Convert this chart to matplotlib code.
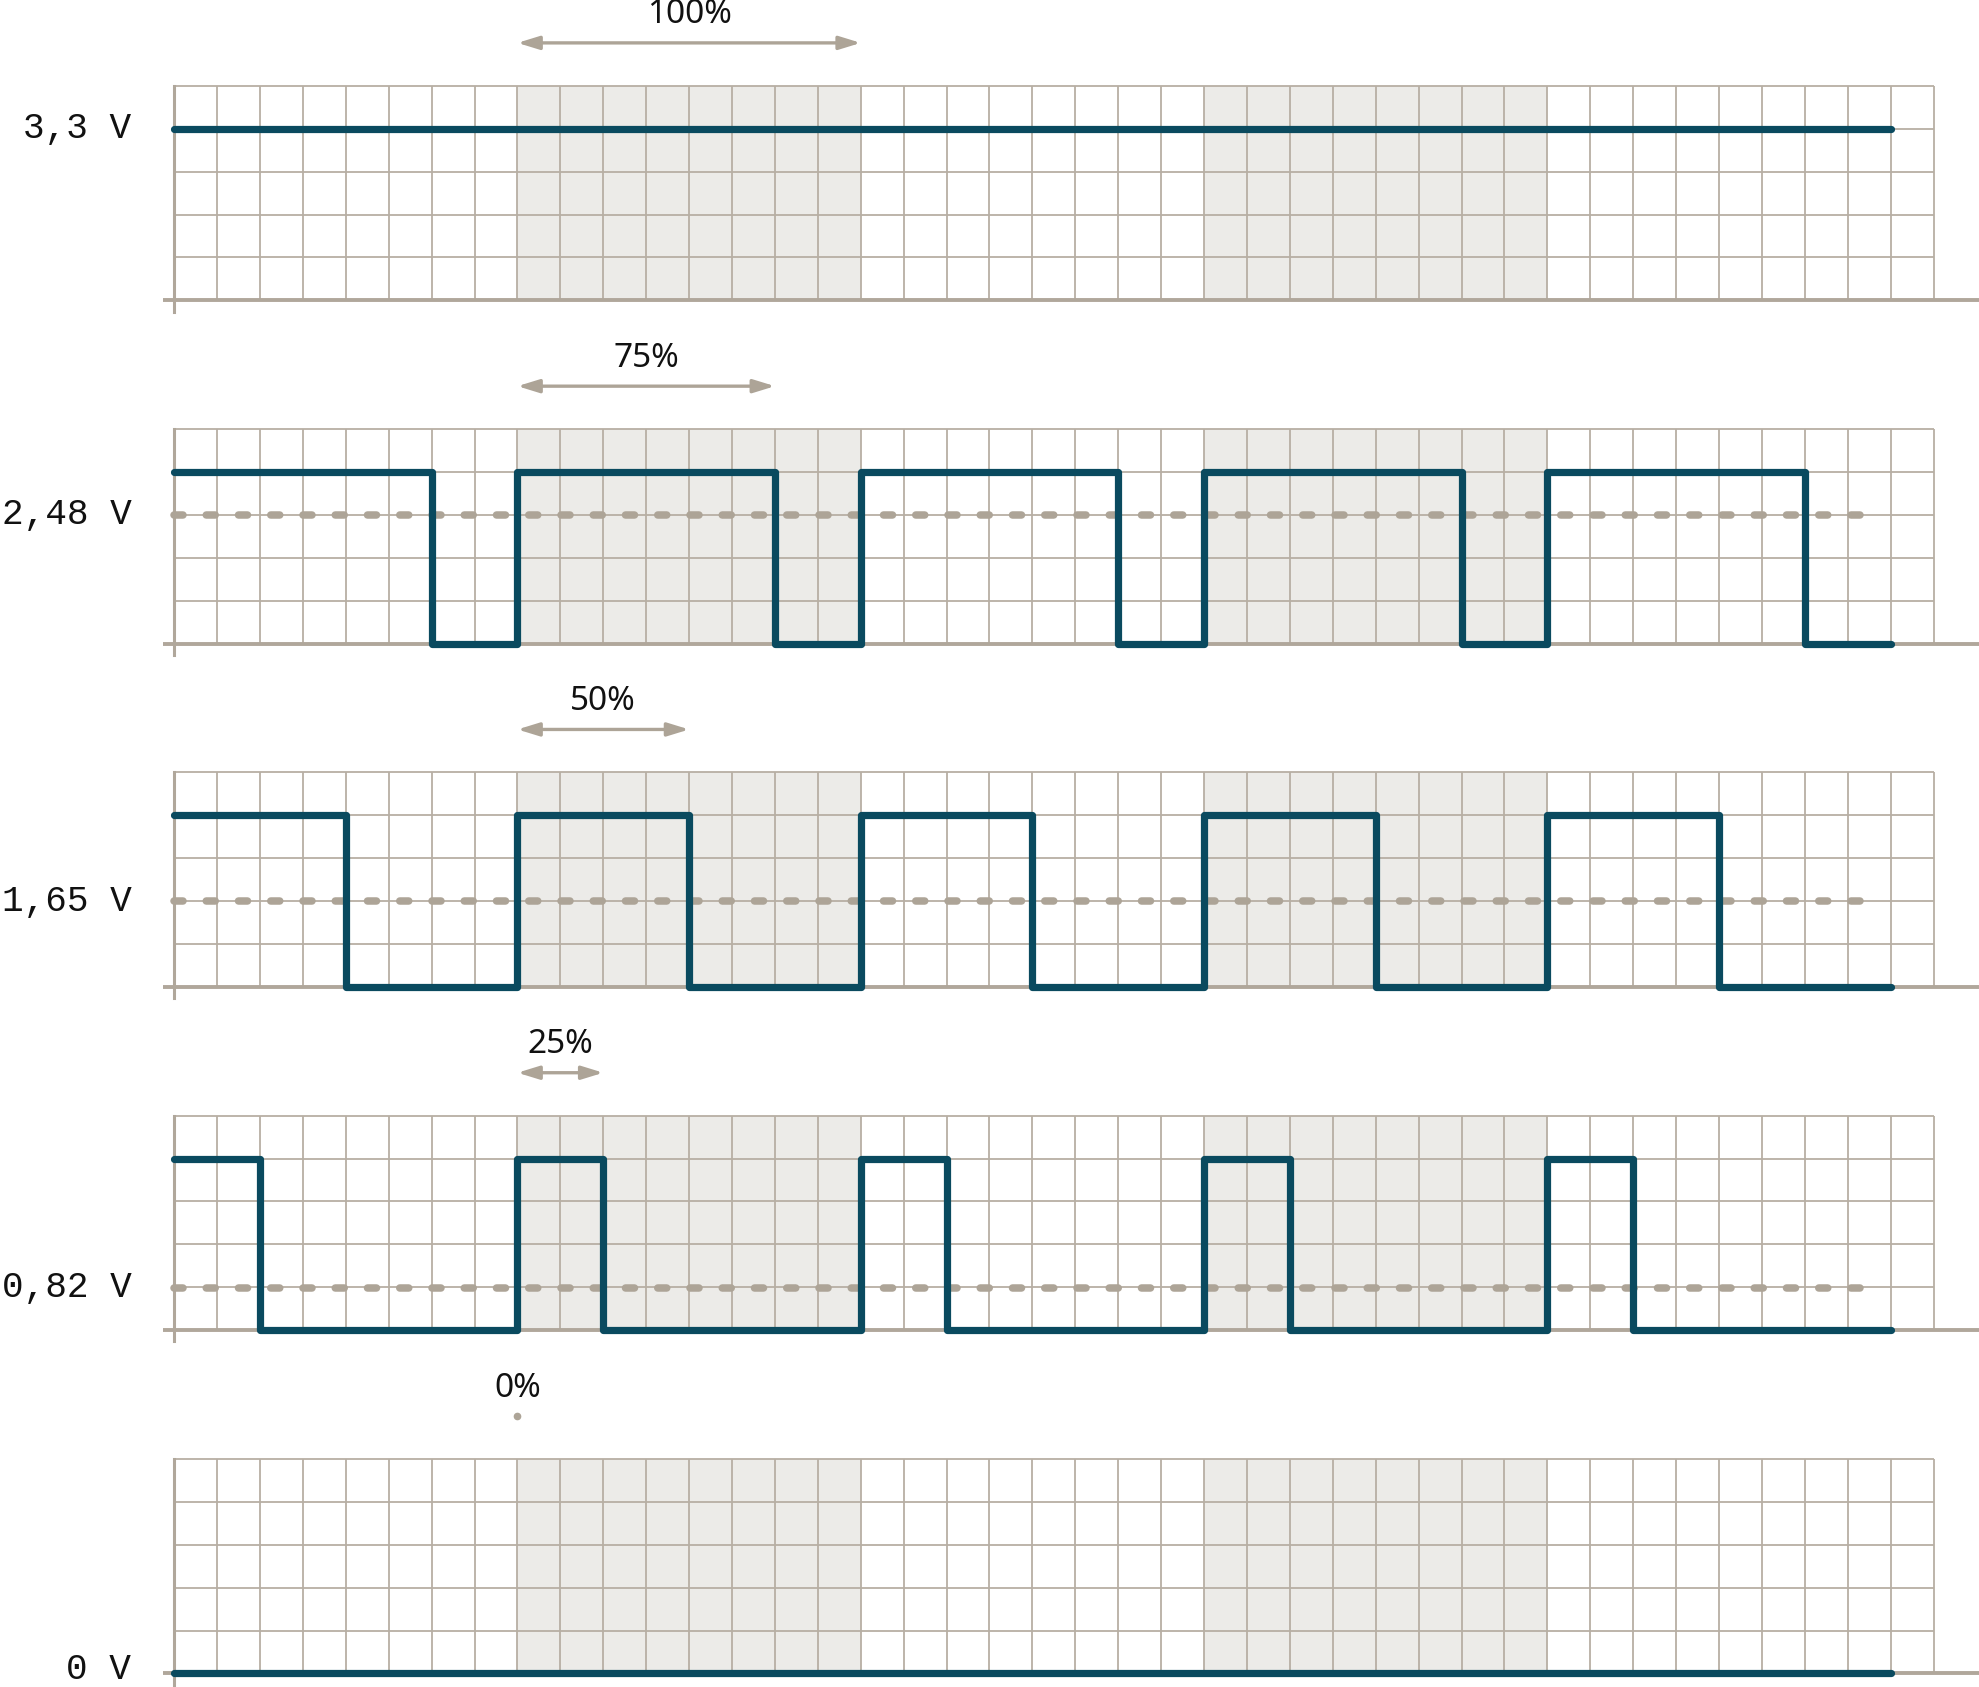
"""PWM duty cycle vs. average output voltage: five stacked square waves."""
import numpy as np
import matplotlib

matplotlib.use("Agg")
import matplotlib.pyplot as plt

# --- data (time in grid units, one PWM period = 8 units; voltages in V) ---
duty_labels = ["100%", "75%", "50%", "25%", "0%"]
volt_labels = ["3,3 V", "2,48 V", "1,65 V", "0,82 V", "0 V"]
avg_volts = [3.3, 2.48, 1.65, 0.82, 0.0]
v_high = 3.3
t_end = 40
# intervals where the output is high, per panel
high_intervals = [
    [(0, 40)],
    [(0, 6), (8, 14), (16, 22), (24, 30), (32, 38)],
    [(0, 4), (8, 12), (16, 20), (24, 28), (32, 36)],
    [(0, 2), (8, 10), (16, 18), (24, 26), (32, 34)],
    [],
]
shaded_periods = [(8, 16), (24, 32)]

# --- style ---
WAVE = "#0a4a5f"
GRID = "#b7afa4"
AXIS = "#b0a79b"
DASH = "#ada497"
SHADE = "#ecebe8"

W, H = 1979, 1687
cell = 42.91          # px per grid cell
left_px, top_px = 174.2, 85.8
ncols, nrows = 41, 5
vstep = v_high / 4    # one grid row in volts
ymax = nrows * vstep

fig = plt.figure(figsize=(W / 100, H / 100), dpi=100)


def square_wave(highs):
    if not highs:
        return [0, t_end], [0, 0]
    xs, ys = [], []
    for a, b in highs:
        if xs:
            xs.append(a)
            ys.append(0)
        elif a > 0:
            xs.append(0)
            ys.append(0)
        xs += [a, b]
        ys += [v_high, v_high]
        if b < t_end:
            xs.append(b)
            ys.append(0)
    if xs[-1] < t_end:
        xs.append(t_end)
        ys.append(0)
    return xs, ys


for i in range(5):
    top = top_px + i * 8 * cell
    bot = top + nrows * cell
    ax = fig.add_axes([left_px / W, 1 - bot / H, ncols * cell / W, nrows * cell / H])
    ax.set_xlim(0, ncols)
    ax.set_ylim(0, ymax)
    ax.axis("off")

    for a, b in shaded_periods:
        ax.axvspan(a, b, color=SHADE, lw=0, zorder=0)
    ax.vlines(np.arange(1, ncols + 1), 0, ymax, color=GRID, lw=1.3, zorder=1, clip_on=False)
    ax.hlines(np.arange(1, nrows + 1) * vstep, 0, ncols, color=GRID, lw=1.3, zorder=1, clip_on=False)

    # axis lines, slightly overshooting the grid
    ax.plot([0, 0], [ymax, -0.26 * vstep], color=AXIS, lw=2.2, zorder=2, clip_on=False)
    ax.plot([-0.25, 42.2], [0, 0], color=AXIS, lw=2.8, zorder=2,
            solid_capstyle="butt", clip_on=False)

    # average level
    if 0 < avg_volts[i] < v_high:
        ax.plot([0, 39.5], [avg_volts[i]] * 2, color=DASH, lw=5.4,
                linestyle=(0, (1.2, 3.1)), dash_capstyle="round", zorder=3, clip_on=False)

    xs, ys = square_wave(high_intervals[i])
    ax.plot(xs, ys, color=WAVE, lw=5.2, solid_capstyle="round",
            solid_joinstyle="round", zorder=4, clip_on=False)

    # keep the 0 V label inside the canvas
    ax.text(-1.0, max(avg_volts[i], 0.1 * vstep), volt_labels[i], ha="right", va="center",
            fontsize=26, family="Liberation Mono", color="#111111")

    # duty-cycle marker over the second period
    y_arr = ymax + vstep
    y_txt = ymax + 1.65 * vstep
    p0, p1 = shaded_periods[0]
    cover = [h for h in high_intervals[i] if h[0] <= p0 < h[1]]
    if cover:
        a, b = p0, min(cover[0][1], p1)
        ax.annotate("", xy=(a, y_arr), xytext=(b, y_arr), annotation_clip=False,
                    arrowprops=dict(arrowstyle="<|-|>,head_length=0.65,head_width=0.2",
                                    color=DASH, lw=2.4, shrinkA=0, shrinkB=0,
                                    mutation_scale=20))
        xc = (a + b) / 2
    else:
        ax.plot([p0], [y_arr], "o", ms=4.5, color=DASH, clip_on=False)
        xc = p0
    ax.text(xc, y_txt, duty_labels[i], ha="center", va="center",
            fontsize=24, family="Noto Sans", color="#111111")

fig.savefig("out.png", dpi=100)
